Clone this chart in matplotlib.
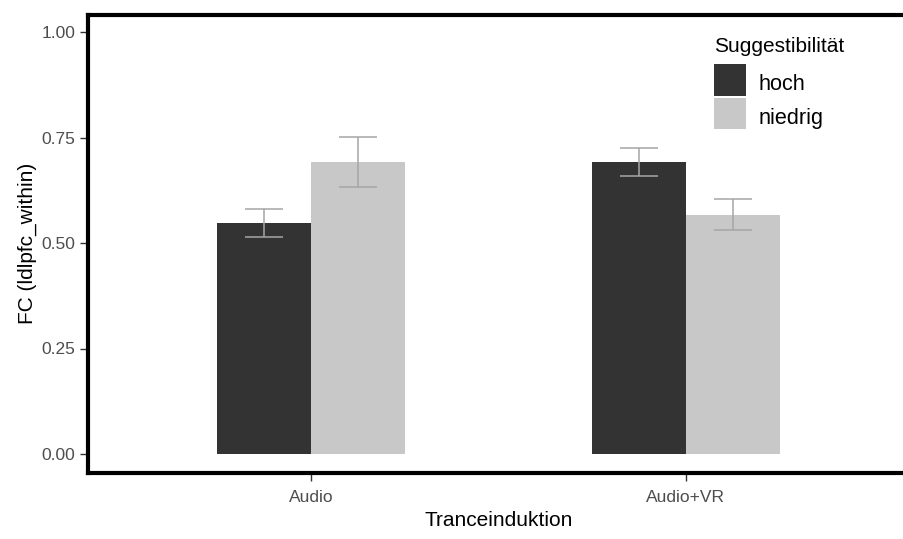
import numpy as np
import matplotlib
matplotlib.use("Agg")
import matplotlib.pyplot as plt
from matplotlib.patches import Rectangle

plt.rcParams["font.family"] = ["Liberation Sans", "DejaVu Sans"]

# ── data ──────────────────────────────────────────────────────────────────────
groups     = ["Audio", "Audio+VR"]
levels     = ["hoch", "niedrig"]
mean_hoch    = [0.547, 0.692]
mean_niedrig = [0.692, 0.567]
se_hoch      = [0.033, 0.0335]
se_niedrig   = [0.0595, 0.0365]
yticks       = [0.00, 0.25, 0.50, 0.75, 1.00]

colors = {"hoch": "#333333", "niedrig": "#C8C8C8"}

# ── figure ────────────────────────────────────────────────────────────────────
W, H = 904, 539
fig = plt.figure(figsize=(W / 100, H / 100), dpi=100)
# panel in pixel coords (left, top, right, bottom); right edge runs off the image
L, T, R, B = 88, 14.5, 909, 473
ax = fig.add_axes([L / W, 1 - B / H, (R - L) / W, (B - T) / H])

x = np.arange(1, len(groups) + 1)
w = 0.25
ax.bar(x - w / 2, mean_hoch, w, color=colors["hoch"], label="hoch")
ax.bar(x + w / 2, mean_niedrig, w, color=colors["niedrig"], label="niedrig")

eb_kw = dict(fmt="none", ecolor="#A6A6A6", elinewidth=1.1, capsize=13.5, capthick=1.1)
ax.errorbar(x - w / 2, mean_hoch, yerr=se_hoch, **eb_kw)
ax.errorbar(x + w / 2, mean_niedrig, yerr=se_niedrig, **eb_kw)

ax.set_xlim(0.405, 2.595)
ax.set_ylim(-(473 - 454) / 422, 1 + (32 - 14.5) / 422)
ax.set_xticks(x)
ax.set_xticklabels(groups)
ax.set_yticks(yticks)
ax.set_yticklabels([f"{v:.2f}" for v in yticks])

ax.tick_params(axis="both", length=6, width=1, color="#333333",
               labelcolor="#4D4D4D", labelsize=12.5)
ax.tick_params(axis="y", pad=3)
ax.tick_params(axis="x", pad=6)

for s in ax.spines.values():
    s.set_linewidth(3)
    s.set_color("black")

ax.set_xlabel("Tranceinduktion", fontsize=15, color="black", va="center")
ax.xaxis.set_label_coords(0.5, -(520 - 473) / (B - T))
ax.set_ylabel("FC (ldlpfc_within)", fontsize=15, color="black", va="center")
ax.yaxis.set_label_coords(-(88 - 27) / (R - L), 0.5)

# ── legend (ggplot style: title on top, square keys) ──────────────────────────
def fx(px): return px / W
def fy(py): return 1 - py / H

fig.text(fx(714), fy(51.7), "Suggestibilität", fontsize=15, color="black",
         va="baseline", ha="left")
key_top, key_size, key_step = 64, 31.5, 33.7
for i, lev in enumerate(levels):
    top = key_top + i * key_step
    fig.add_artist(Rectangle((fx(714.3), fy(top + key_size)), key_size / W, key_size / H,
                             transform=fig.transFigure, facecolor=colors[lev],
                             edgecolor="none"))
    fig.text(fx(759), fy(top + 26), lev, fontsize=15.6, color="black",
             va="baseline", ha="left")

fig.savefig("out.png", dpi=100)
